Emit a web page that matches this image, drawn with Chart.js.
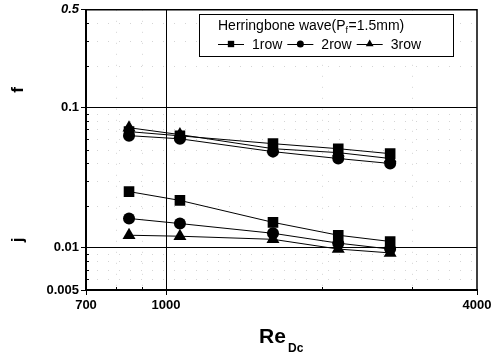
<!DOCTYPE html>
<html>
<head>
<meta charset="utf-8">
<script src="https://cdn.jsdelivr.net/npm/chart.js@4"></script>
<style>
  html, body { margin: 0; padding: 0; background: #fff; }
  #wrap { width: 497px; height: 357px; }
</style>
</head>
<body>
<div id="wrap"><canvas id="myChart" width="497" height="357"></canvas></div>
<script>
const reDc = [848, 1064, 1611, 2155, 2716];
const f1row = [0.0675, 0.063, 0.0554, 0.051, 0.047];
const f2row = [0.0632, 0.060, 0.0486, 0.0434, 0.040];
const f3row = [0.072, 0.0643, 0.051, 0.0478, 0.0434];
const j1row = [0.0252, 0.0218, 0.0152, 0.0123, 0.0111];
const j2row = [0.0162, 0.0149, 0.0127, 0.0108, 0.0098];
const j3row = [0.0123, 0.0121, 0.0115, 0.0098, 0.0092];
const rowNames = ['1row', '2row', '3row'];
const xTicks = [700, 1000, 4000];
const yTicks = [0.005, 0.01, 0.1, 0.5];
const xMinor = [800, 900, 2000, 3000];
const yMinor = [0.006, 0.007, 0.008, 0.009, 0.02, 0.03, 0.04, 0.05, 0.06, 0.07, 0.08, 0.09, 0.2, 0.3, 0.4];

const markerSize = { rect: 7.5, circle: 6, triangle: 7.5 };
const FONT = '"Liberation Sans", Arial, sans-serif';

function pts(ys) {
  return reDc.map((x, i) => ({ x: x, y: ys[i] }));
}

function makeSet(label, ys, marker, hidden) {
  return {
    label: label,
    data: pts(ys),
    showLine: true,
    borderColor: '#000',
    borderWidth: 1,
    backgroundColor: '#000',
    pointStyle: marker,
    pointRadius: markerSize[marker],
    pointBorderWidth: 0,
    inLegend: !hidden
  };
}

const datasets = [
  makeSet('f 1row', f1row, 'rect'),
  makeSet('f 2row', f2row, 'circle'),
  makeSet('f 3row', f3row, 'triangle'),
  makeSet('j 1row', j1row, 'rect', true),
  makeSet('j 2row', j2row, 'circle', true),
  makeSet('j 3row', j3row, 'triangle', true)
];

const extras = {
  id: 'extras',
  beforeDatasetsDraw(chart) {
    const ctx = chart.ctx;
    const a = chart.chartArea;
    const xs = chart.scales.x, ys = chart.scales.y;
    ctx.save();
    // faint dotted minor grid
    ctx.strokeStyle = '#d4d4d4';
    ctx.lineWidth = 1;
    ctx.setLineDash([1, 10]);
    xMinor.forEach(v => {
      const px = Math.round(xs.getPixelForValue(v)) + 0.5;
      ctx.beginPath(); ctx.moveTo(px, a.top); ctx.lineTo(px, a.bottom); ctx.stroke();
    });
    yMinor.forEach(v => {
      const py = Math.round(ys.getPixelForValue(v)) + 0.5;
      ctx.beginPath(); ctx.moveTo(a.left, py); ctx.lineTo(a.right, py); ctx.stroke();
    });
    ctx.setLineDash([]);
    // minor tick marks inside the axes
    ctx.strokeStyle = '#000';
    yMinor.forEach(v => {
      const py = Math.round(ys.getPixelForValue(v)) + 0.5;
      ctx.beginPath(); ctx.moveTo(a.left, py); ctx.lineTo(a.left + 3, py); ctx.stroke();
    });
    xMinor.forEach(v => {
      const px = Math.round(xs.getPixelForValue(v)) + 0.5;
      ctx.beginPath(); ctx.moveTo(px, a.bottom); ctx.lineTo(px, a.bottom - 3); ctx.stroke();
    });
    // top and right frame
    ctx.lineWidth = 1.5;
    ctx.beginPath();
    ctx.moveTo(a.left, a.top);
    ctx.lineTo(a.right, a.top);
    ctx.lineTo(a.right, a.bottom);
    ctx.stroke();
    ctx.restore();
  },
  afterDraw(chart) {
    const ctx = chart.ctx;
    ctx.save();
    ctx.fillStyle = '#000';
    // y labels f and j
    ctx.font = 'bold 17px ' + FONT;
    ctx.textAlign = 'center';
    ctx.textBaseline = 'middle';
    [['f', 90], ['j', 240]].forEach(([t, y]) => {
      ctx.save();
      ctx.translate(18, y);
      ctx.rotate(-Math.PI / 2);
      ctx.fillText(t, 0, 0);
      ctx.restore();
    });
    // x title Re_Dc
    ctx.textAlign = 'left';
    ctx.textBaseline = 'alphabetic';
    ctx.font = 'bold 21px ' + FONT;
    ctx.fillText('Re', 259, 343);
    ctx.font = 'bold 12px ' + FONT;
    ctx.fillText('Dc', 288, 352);

    // legend box
    const bx = 199, by = 14, bw = 254, bh = 42;
    ctx.fillStyle = '#fff';
    ctx.fillRect(bx, by, bw, bh);
    ctx.strokeStyle = '#000';
    ctx.lineWidth = 1;
    ctx.strokeRect(bx + 0.5, by + 0.5, bw, bh);
    ctx.fillStyle = '#000';
    ctx.font = '14px ' + FONT;
    let tx = 218;
    const t1 = 'Herringbone wave(P';
    ctx.fillText(t1, tx, 30);
    tx += ctx.measureText(t1).width;
    ctx.font = '9px ' + FONT;
    ctx.fillText('f', tx, 33);
    tx += 3;
    ctx.font = '14px ' + FONT;
    ctx.fillText('=1.5mm)', tx, 30);

    let lx = 218;
    const ly = 44;
    chart.data.datasets.filter(d => d.inLegend).forEach((d, i) => {
      ctx.strokeStyle = '#000';
      ctx.beginPath(); ctx.moveTo(lx, ly + 0.5); ctx.lineTo(lx + 26, ly + 0.5); ctx.stroke();
      Chart.helpers.drawPoint(ctx, { pointStyle: d.pointStyle, radius: d.pointStyle === 'circle' ? 3.5 : 4.5, borderWidth: 0 }, lx + 13, ly);
      ctx.fillStyle = '#000';
      ctx.fillText(rowNames[i], lx + 34, ly + 5);
      lx += 34 + ctx.measureText(rowNames[i]).width + 5;
    });
    ctx.restore();
  }
};

function lineAtMajor(v, edges) {
  return edges.includes(v) ? 'rgba(0,0,0,0)' : '#000';
}

const ctx = document.getElementById('myChart');
new Chart(ctx, {
  type: 'scatter',
  data: { datasets },
  options: {
    responsive: false,
    animation: false,
    layout: { padding: { top: 9, right: 20, left: 0, bottom: 0 } },
    plugins: {
      legend: { display: false },
      tooltip: { enabled: false }
    },
    scales: {
      x: {
        type: 'logarithmic',
        min: 700,
        max: 4000,
        afterBuildTicks: s => { s.ticks = xTicks.map(v => ({ value: v })); },
        afterFit: s => { s.height = 67; },
        border: { color: '#000', width: 2 },
        grid: {
          color: c => lineAtMajor(c.tick.value, [700, 4000]),
          lineWidth: 1,
          drawTicks: true,
          tickLength: 5,
          tickColor: '#000'
        },
        ticks: {
          color: '#000',
          font: { family: FONT, size: 13, weight: 'bold' },
          padding: 3,
          maxRotation: 0,
          callback: v => String(v)
        }
      },
      y: {
        type: 'logarithmic',
        min: 0.005,
        max: 0.5,
        afterBuildTicks: s => { s.ticks = yTicks.map(v => ({ value: v })); },
        afterFit: s => { s.width = 86; },
        border: { color: '#000', width: 2 },
        grid: {
          color: c => lineAtMajor(c.tick.value, [0.005, 0.5]),
          lineWidth: 1,
          drawTicks: true,
          tickLength: 5,
          tickColor: '#000'
        },
        ticks: {
          color: '#000',
          font: c => ({
            family: FONT,
            size: 13,
            weight: 'bold',
            style: c.tick && c.tick.value === 0.5 ? 'italic' : 'normal'
          }),
          padding: 2,
          callback: v => String(v)
        }
      }
    }
  },
  plugins: [extras]
});
</script>
</body>
</html>
